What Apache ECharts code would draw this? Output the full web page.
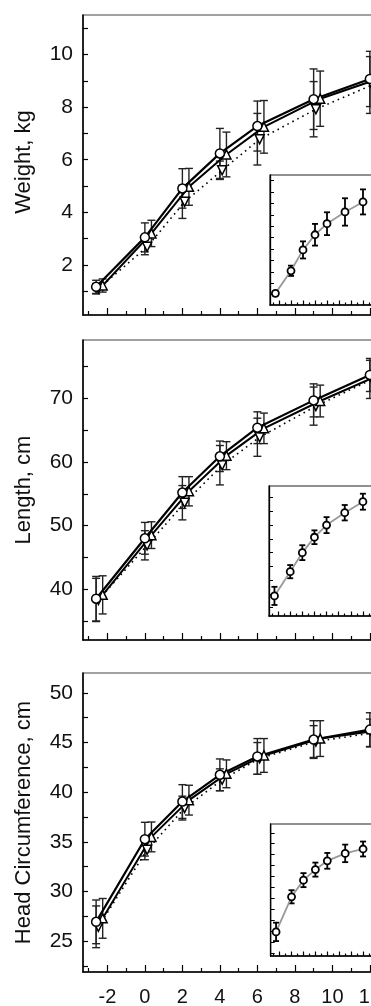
<!DOCTYPE html>
<html>
<head>
<meta charset="utf-8">
<script src="https://cdn.jsdelivr.net/npm/echarts@6/dist/echarts.min.js"></script>
<style>
  html, body { margin: 0; padding: 0; background: #fff; }
  #chart { width: 371px; height: 1006px; }
</style>
</head>
<body>
<div id="chart"></div>
<script>
// ages, months (corrected)
const ages = [-2.6, 0, 2, 4, 6, 9, 12];

// weight, kg
const weightCircle = [1.17, 3.05, 4.91, 6.24, 7.28, 8.30, 9.07];
const weightUp = [1.22, 3.20, 4.97, 6.20, 7.25, 8.32, 9.05];
const weightDown = [1.10, 2.69, 4.40, 5.60, 6.78, 7.92, 8.84];
const weightCircleErr = [0.25, 0.55, 0.75, 0.95, 0.95, 1.15, 1.05];
const weightUpErr = [0.25, 0.50, 0.70, 0.85, 1.00, 1.05, 1.00];
const weightDownErr = [0.20, 0.30, 0.63, 0.35, 0.98, 1.05, 1.08];
const weightInset = [1.12, 3.10, 4.93, 6.26, 7.23, 8.26, 9.14];
const weightInsetErr = [0.20, 0.45, 0.75, 0.95, 1.00, 1.20, 1.10];

// length, cm
const lengthCircle = [38.5, 48.0, 55.2, 60.9, 65.4, 69.7, 73.7];
const lengthUp = [39.1, 48.5, 55.4, 61.0, 65.3, 69.6, 73.5];
const lengthDown = [38.3, 46.9, 53.6, 59.5, 63.9, 68.8, 73.0];
const lengthCircleErr = [3.5, 2.5, 2.5, 2.4, 2.5, 2.6, 2.6];
const lengthUpErr = [3.0, 2.1, 2.3, 2.2, 2.4, 2.5, 2.4];
const lengthDownErr = [3.4, 2.3, 2.7, 3.1, 3.0, 3.0, 3.0];
const lengthInset = [39.3, 48.1, 55.0, 60.6, 65.0, 69.5, 73.5];
const lengthInsetErr = [3.3, 2.4, 2.7, 2.5, 2.9, 2.8, 2.9];

// head circumference, cm
const headCircle = [26.95, 35.27, 39.06, 41.75, 43.6, 45.3, 46.3];
const headUp = [27.3, 35.5, 39.2, 41.85, 43.7, 45.4, 46.2];
const headDown = [26.45, 34.2, 38.4, 41.25, 43.4, 45.1, 45.96];
const headCircleErr = [2.2, 1.7, 1.7, 1.6, 1.8, 1.9, 1.7];
const headUpErr = [2.0, 1.5, 1.5, 1.4, 1.7, 1.8, 1.6];
const headDownErr = [2.1, 1.0, 1.2, 1.1, 1.6, 1.6, 1.4];
const headInset = [27.4, 35.4, 39.2, 41.6, 43.6, 45.3, 46.3];
const headInsetErr = [2.1, 1.5, 1.6, 1.6, 1.8, 2.0, 1.7];

// ticks and labels
const xMinorTicks = [-3, -1, 1, 3, 5, 7, 9, 11, 13];
const xMajorTicks = [-2, 0, 2, 4, 6, 8, 10, 12];
const xLabels = [-2, 0, 2, 4, 6, 8, 10, 12];
const weightTicks = [1, 2, 3, 4, 5, 6, 7, 8, 9, 10, 11];
const weightLabels = [2, 4, 6, 8, 10];
const lengthTicks = [35, 40, 45, 50, 55, 60, 65, 70, 75];
const lengthLabels = [40, 50, 60, 70];
const headTicks = [22.5, 25, 27.5, 30, 32.5, 35, 37.5, 40, 42.5, 45, 47.5, 50];
const headLabels = [25, 30, 35, 40, 45, 50];

const DODGE_UP = 0.35;
const DODGE_DOWN = 0.12;
const FONT = 'Liberation Sans, Arial, sans-serif';

const panels = [
  { name: 'Weight, kg', min: 0.1, max: 11.5, ticks: weightTicks, labels: weightLabels, namePad: 6,
    circle: weightCircle, up: weightUp, down: weightDown,
    circleErr: weightCircleErr, upErr: weightUpErr, downErr: weightDownErr,
    inset: weightInset, insetErr: weightInsetErr,
    top: 15, height: 300, insetTop: 175, insetLeft: 270, insetHeight: 130 },
  { name: 'Length, cm', min: 32, max: 79.2, ticks: lengthTicks, labels: lengthLabels, namePad: 0,
    circle: lengthCircle, up: lengthUp, down: lengthDown,
    circleErr: lengthCircleErr, upErr: lengthUpErr, downErr: lengthDownErr,
    inset: lengthInset, insetErr: lengthInsetErr,
    top: 340, height: 300, insetTop: 486, insetLeft: 269, insetHeight: 130 },
  { name: 'Head Circumference, cm', min: 21.9, max: 52, ticks: headTicks, labels: headLabels, namePad: 0,
    circle: headCircle, up: headUp, down: headDown,
    circleErr: headCircleErr, upErr: headUpErr, downErr: headDownErr,
    inset: headInset, insetErr: headInsetErr,
    top: 673, height: 299, insetTop: 824, insetLeft: 270.7, insetHeight: 132 }
];

const MAIN_X = { min: -3.3, max: 12.5, left: 83, width: 296.25 };
const INSET_X = { min: -3.5, max: 13.5 };

const grids = [], xAxes = [], yAxes = [], series = [];

function shift(xs, d) { return xs.map(x => x + d); }

function xPair(g, range, minorLen, majorLen, showLabels) {
  const base = {
    type: 'value', gridIndex: g, min: range.min, max: range.max, position: 'bottom',
    splitLine: { show: false }
  };
  xAxes.push(Object.assign({}, base, {
    axisLine: { show: true, onZero: false, lineStyle: { color: '#000', width: 1.5 } },
    axisTick: { show: true, inside: true, length: minorLen, customValues: xMinorTicks, lineStyle: { color: '#000', width: 1.2 } },
    axisLabel: { show: false }
  }));
  xAxes.push(Object.assign({}, base, {
    axisLine: { show: false },
    axisTick: { show: true, inside: true, length: majorLen, customValues: xMajorTicks, lineStyle: { color: '#000', width: 1.2 } },
    axisLabel: { show: showLabels, customValues: xLabels, fontSize: 20, margin: 15, color: '#111', fontFamily: FONT }
  }));
}

function markers(g, xs, ys, symbol, rotate, lineStyle, size, z, border) {
  return {
    type: 'line', xAxisIndex: 2 * g, yAxisIndex: g,
    data: xs.map((x, i) => [x, ys[i]]),
    symbol, symbolSize: size, symbolRotate: rotate, showSymbol: true,
    itemStyle: { color: '#fff', borderColor: '#000', borderWidth: border },
    lineStyle, z, animation: false, silent: true
  };
}

function errorBars(g, xs, ys, errs, cap, color, width, z) {
  return {
    type: 'custom', xAxisIndex: 2 * g, yAxisIndex: g,
    data: ys.map((y, i) => [xs[i], y, errs[i]]),
    encode: { x: 0, y: 1 },
    z, animation: false, silent: true,
    renderItem: (params, api) => {
      const x = api.value(0), y = api.value(1), e = api.value(2);
      const hi = api.coord([x, y + e]);
      const lo = api.coord([x, y - e]);
      const w = cap / 2;
      const style = { stroke: color, lineWidth: width };
      return {
        type: 'group',
        children: [
          { type: 'line', shape: { x1: hi[0], y1: hi[1], x2: lo[0], y2: lo[1] }, style },
          { type: 'line', shape: { x1: hi[0] - w, y1: hi[1], x2: hi[0] + w, y2: hi[1] }, style },
          { type: 'line', shape: { x1: lo[0] - w, y1: lo[1], x2: lo[0] + w, y2: lo[1] }, style }
        ]
      };
    }
  };
}

panels.forEach((p, i) => {
  // main grid
  const g = i;
  grids[g] = { left: MAIN_X.left, top: p.top, width: MAIN_X.width, height: p.height,
    outerBoundsMode: 'none', containLabel: false,
    show: true, borderColor: '#444', borderWidth: 1.2, backgroundColor: 'transparent' };
  yAxes[g] = {
    type: 'value', gridIndex: g, min: p.min, max: p.max, position: 'left',
    name: p.name, nameLocation: 'middle', nameGap: 48,
    nameTextStyle: { fontSize: 22, color: '#111', fontFamily: FONT, padding: [0, 0, 0, p.namePad] },
    axisLine: { show: true, onZero: false, lineStyle: { color: '#000', width: 1.5 } },
    axisTick: { show: true, inside: true, length: 5, customValues: p.ticks, lineStyle: { color: '#000', width: 1.2 } },
    axisLabel: { show: true, customValues: p.labels, fontSize: 21, margin: 10, color: '#111', fontFamily: FONT },
    splitLine: { show: false }
  };
  xPair(g, MAIN_X, 4, 7, i === 2);

  series.push(errorBars(g, ages, p.down, p.downErr, 8, '#222', 1.4, 3));
  series.push(errorBars(g, shift(ages, DODGE_UP), p.up, p.upErr, 8, '#222', 1.4, 3));
  series.push(errorBars(g, ages, p.circle, p.circleErr, 8, '#222', 1.4, 3));
  series.push(markers(g, shift(ages, DODGE_DOWN), p.down, 'triangle', 180,
    { color: '#000', width: 1.6, type: [1.6, 4] }, 9, 4, 1.5));
  series.push(markers(g, shift(ages, DODGE_UP), p.up, 'triangle', 0,
    { color: '#000', width: 2 }, 9, 4, 1.5));
  series.push(markers(g, ages, p.circle, 'circle', 0,
    { color: '#000', width: 2.2 }, 9, 4, 1.5));
});

panels.forEach((p, i) => {
  // inset grid
  const g = i + 3;
  grids[g] = { left: p.insetLeft, top: p.insetTop, width: 372 - p.insetLeft, height: p.insetHeight,
    outerBoundsMode: 'none', containLabel: false,
    show: true, borderColor: '#222', borderWidth: 1.2, backgroundColor: '#fff' };
  yAxes[g] = {
    type: 'value', gridIndex: g, min: p.min, max: p.max, position: 'left',
    axisLine: { show: true, onZero: false, lineStyle: { color: '#000', width: 1.3 } },
    axisTick: { show: true, inside: true, length: 4, customValues: p.ticks, lineStyle: { color: '#000', width: 1 } },
    axisLabel: { show: false },
    splitLine: { show: false }
  };
  xPair(g, INSET_X, 2.5, 4.5, false);
  series.push(errorBars(g, ages, p.inset, p.insetErr, 6, '#000', 1.8, 6));
  series.push(markers(g, ages, p.inset, 'circle', 0, { color: '#999', width: 1.8 }, 7, 7, 1.8));
});

const chart = echarts.init(document.getElementById('chart'), null, { renderer: 'canvas' });
chart.setOption({
  backgroundColor: '#fff',
  animation: false,
  grid: grids,
  xAxis: xAxes,
  yAxis: yAxes,
  series
});
</script>
</body>
</html>
